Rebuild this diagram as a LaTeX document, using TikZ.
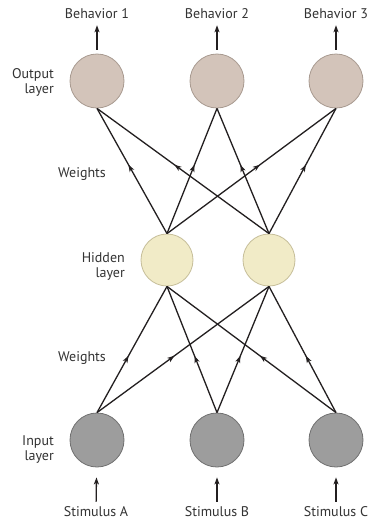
\documentclass[tikz,border=0pt]{standalone}
\usepackage{fontspec}
\setmainfont{PT Sans}
\usetikzlibrary{arrows.meta,decorations.markings}
\definecolor{outfill}{HTML}{D3C4BA}
\definecolor{outdraw}{HTML}{A89A90}
\definecolor{hidfill}{HTML}{F1EBC7}
\definecolor{hiddraw}{HTML}{C6BE99}
\definecolor{infill}{HTML}{9D9D9D}
\definecolor{indraw}{HTML}{707070}
\definecolor{ink}{HTML}{231F20}
\definecolor{txt}{HTML}{333333}
\tikzset{
  neuron/.style={circle, inner sep=0pt, line width=0.8pt},
  outn/.style={neuron, minimum size=54pt, fill=outfill, draw=outdraw},
  hidn/.style={neuron, minimum size=52pt, fill=hidfill, draw=hiddraw},
  inn/.style={neuron, minimum size=54pt, fill=infill, draw=indraw},
  lbl/.style={font=\fontsize{14}{15}\selectfont, text=txt, inner sep=0pt},
  wire/.style={draw=ink, line width=1.3pt},
  arr/.style={wire, -{Stealth[length=7pt, width=5pt, inset=1.8pt]}},
  midlow/.style={wire, postaction={decorate}, decoration={markings, mark=at position 0.45 with {\arrow{Stealth[length=7pt, width=5pt, inset=1.8pt]}}}},
  midup/.style={wire, postaction={decorate}, decoration={markings, mark=at position 0.55 with {\arrow{Stealth[length=7pt, width=5pt, inset=1.8pt]}}}},
}
\begin{document}
\begin{tikzpicture}[x=1pt,y=-1pt]
\useasboundingbox (0,0) rectangle (370,523);
\fill[white] (0,0) rectangle (370,523);
% nodes
\node[outn] (o1) at (97,81) {};
\node[outn] (o2) at (217,81) {};
\node[outn] (o3) at (336,81) {};
\node[hidn] (h1) at (167,260) {};
\node[hidn] (h2) at (269,260) {};
\node[inn] (i1) at (97,440) {};
\node[inn] (i2) at (217,440) {};
\node[inn] (i3) at (336,440) {};
% labels
\node[lbl] (b1) at (97,14) {Behavior 1};
\node[lbl] (b2) at (217,14) {Behavior 2};
\node[lbl] (b3) at (336,14) {Behavior 3};
\node[lbl] (s1) at (96,512) {Stimulus A};
\node[lbl] (s2) at (217,512) {Stimulus B};
\node[lbl] (s3) at (336,512) {Stimulus C};
\node[lbl, align=right, anchor=east] (lo) at (54,82) {Output\\layer};
\node[lbl, align=right, anchor=east] (lh) at (125,266) {Hidden\\layer};
\node[lbl, align=right, anchor=east] (li) at (54,450) {Input\\layer};
\node[lbl] (w1) at (82,174) {Weights};
\node[lbl] (w2) at (82,358) {Weights};
% connectors lower
\foreach \a in {i1,i2,i3}{
  \foreach \b in {h1,h2}{
    \draw[midlow] (\a.north) -- (\b.south);
  }
}
% connectors upper
\foreach \a in {h1,h2}{
  \foreach \b in {o1,o2,o3}{
    \draw[midup] (\a.north) -- (\b.south);
  }
}
% in/out arrows
\foreach \n in {1,2,3}{
  \draw[arr, shorten <=4pt, shorten >=6pt] (o\n) -- (b\n);
  \draw[arr, shorten <=5pt, shorten >=10pt] (s\n) -- (i\n);
}
\end{tikzpicture}
\end{document}
